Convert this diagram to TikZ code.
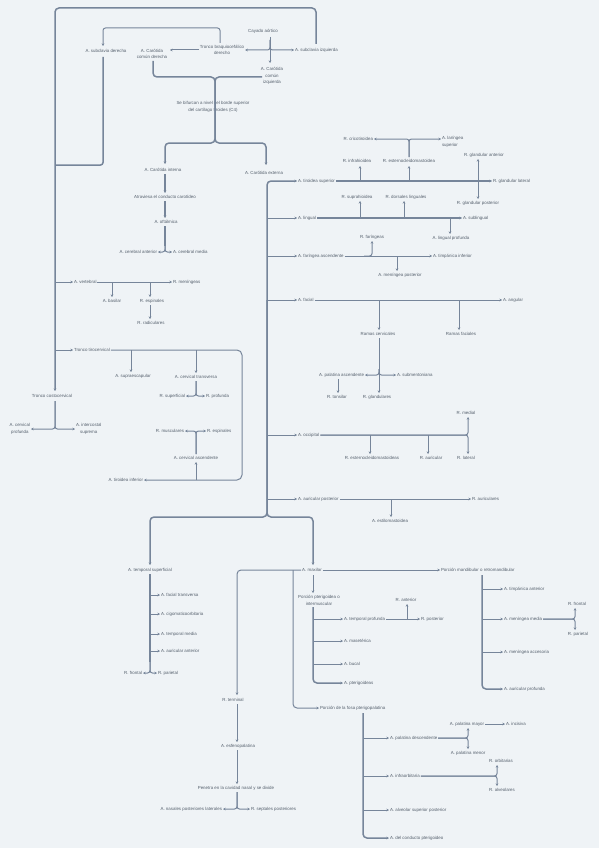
\documentclass[tikz,border=0pt]{standalone}
\usepackage{fontspec}
\setmainfont{Liberation Sans}
\usetikzlibrary{arrows.meta}
\definecolor{bgc}{HTML}{EFF3F6}
\definecolor{linec}{HTML}{76859A}
\definecolor{txtc}{HTML}{545F6C}
\begin{document}
\begin{tikzpicture}[x=1pt,y=-1pt,
  lbl/.style={font=\fontsize{4.4}{6.8}\selectfont, text=txtc, inner sep=0.8pt, align=center},
  cn/.style={draw=linec, line width=1pt, rounded corners=2.5pt},
  tk/.style={cn, line width=1.5pt},
  ar/.style={-{Stealth[length=2.6pt,width=2.6pt]}}]
\fill[bgc] (0,0) rectangle (599,848);
\useasboundingbox (0,0) rectangle (599,848);

% ---------- nodes: top ----------
\node[lbl] (cay) at (263,31) {Cayado aórtico};
\node[lbl] (tbd) at (222,50) {Tronco braquiocefálico\\derecho};
\node[lbl,anchor=west] (sci) at (294,50) {A. subclavia izquierda};
\node[lbl] (cci) at (272,76) {A. Carótida\\común\\izquierda};
\node[lbl] (scd) at (106,51) {A. subclavia derecha};
\node[lbl] (ccd) at (152,54) {A. Carótida\\común derecha};
\node[lbl] (bif) at (213,107) {Se bifurcan a nivel del borde superior\\del cartílago tiroides (C4)};
\node[lbl] (ici) at (163,170) {A. Carótida interna};
\node[lbl] (ext) at (264,173) {A. Carótida externa};
\node[lbl] (cct) at (165,197) {Atraviesa el conducto carotídeo};
\node[lbl] (oft) at (166,222) {A. oftálmica};
\node[lbl,anchor=east] (cea) at (158,252) {A. cerebral anterior};
\node[lbl,anchor=west] (cem) at (172,252) {A. cerebral media};

% ---------- nodes: subclavian ----------
\node[lbl,anchor=west] (vert) at (73,282) {A. vertebral};
\node[lbl,anchor=west] (men) at (172,282) {R. meníngeas};
\node[lbl] (bas) at (112,301) {A. basilar};
\node[lbl] (esp) at (152,301) {R. espinales};
\node[lbl] (rad) at (151,323) {R. radiculares};
\node[lbl,anchor=west] (ttc) at (73,350) {Tronco tirocervical};
\node[lbl] (supe) at (133,376) {A. supraescapular};
\node[lbl] (ctr) at (196,377) {A. cervical transversa};
\node[lbl,anchor=east] (rsup) at (186,396) {R. superficial};
\node[lbl,anchor=west] (rpro) at (205,396) {R. profunda};
\node[lbl,anchor=east] (rmus) at (185,431) {R. musculares};
\node[lbl,anchor=west] (resp) at (206,431) {R. espinales};
\node[lbl] (cas) at (196,458) {A. cervical ascendente};
\node[lbl,anchor=east] (tinf) at (144,480) {A. tiroidea inferior};
\node[lbl] (tcc) at (52,396) {Tronco costocervical};
\node[lbl,anchor=east] (cpr) at (31,429) {A. cervical\\profunda};
\node[lbl,anchor=west] (ics) at (75,429) {A. intercostal\\suprema};

% ---------- nodes: external carotid ----------
\node[lbl,anchor=west] (tsup) at (297,181) {A. tiroidea superior};
\node[lbl,anchor=west] (gla) at (492,181) {R. glandular lateral};
\node[lbl] (inf) at (357,161) {R. infrahioidea};
\node[lbl] (ecm) at (409,161) {R. esternocleidomastoidea};
\node[lbl,anchor=east] (cri) at (374,139) {R. cricotiroidea};
\node[lbl,anchor=west,align=left] (lar) at (441,142) {A. laríngea\\superior};
\node[lbl] (gan) at (484,155) {R. glandular anterior};
\node[lbl] (gpo) at (478,203) {R. glandular posterior};

\node[lbl,anchor=west] (ling) at (297,218) {A. lingual};
\node[lbl] (shi) at (357,197) {R. suprahioidea};
\node[lbl] (dor) at (406,197) {R. dorsales linguales};
\node[lbl,anchor=west] (subl) at (462,218) {A. sublingual};
\node[lbl] (prof) at (451,238) {A. lingual profunda};

\node[lbl,anchor=west] (fa) at (297,256) {A. faríngea ascendente};
\node[lbl] (rfar) at (372,237) {R. faríngeas};
\node[lbl] (mpo) at (400,275) {A. meníngea posterior};
\node[lbl,anchor=west] (tinf2) at (432,256) {A. timpánica inferior};

\node[lbl,anchor=west] (fac) at (297,300) {A. facial};
\node[lbl,anchor=west] (ang) at (502,300) {A. angular};
\node[lbl] (rce) at (378,334) {Ramas cervicales};
\node[lbl] (rfa) at (461,334) {Ramas faciales};
\node[lbl,anchor=east] (pas) at (365,375) {A. palatina ascendente};
\node[lbl,anchor=west] (smt) at (396,375) {A. submentoniana};
\node[lbl] (rgl) at (377,397) {R. glandulares};
\node[lbl] (rto) at (337,397) {R. tonsilar};

\node[lbl,anchor=west] (occ) at (297,435) {A. occipital};
\node[lbl] (ecms) at (372,458) {R. esternocleidomastoideas};
\node[lbl] (rau) at (431,458) {R. auricular};
\node[lbl] (rme) at (466,413) {R. medial};
\node[lbl] (rla) at (466,458) {R. lateral};

\node[lbl,anchor=west] (aup) at (297,499) {A. auricular posterior};
\node[lbl,anchor=west] (raus) at (471,499) {R. auriculares};
\node[lbl] (est) at (390,521) {A. estilomastoidea};

% ---------- temporal superficial ----------
\node[lbl] (ts) at (150,570) {A. temporal superficial};
\node[lbl,anchor=west] (ftr) at (160,595) {A. facial transversa};
\node[lbl,anchor=west] (cig) at (160,614) {A. cigomaticoorbitaria};
\node[lbl,anchor=west] (tme) at (160,634) {A. temporal media};
\node[lbl,anchor=west] (aan) at (160,651) {A. auricular anterior};
\node[lbl,anchor=east] (rfr) at (143,673) {R. frontal};
\node[lbl,anchor=west] (rpa) at (157,673) {R. parietal};

% ---------- maxilar ----------
\node[lbl] (max) at (312,570) {A. maxilar};
\node[lbl,anchor=west] (pt1) at (440,570) {Porción mandibular o retromandibular};
\node[lbl] (pt2) at (319,600) {Porción pterigoidea o\\intermuscular};
\node[lbl,anchor=west] (pt3) at (319,708) {Porción de la fosa pterigopalatina};

\node[lbl,anchor=west] (tan) at (503,589) {A. timpánica anterior};
\node[lbl,anchor=west] (mme) at (503,619) {A. meníngea media};
\node[lbl] (mfr) at (577,604) {R. frontal};
\node[lbl] (mpa) at (578,634) {R. parietal};
\node[lbl,anchor=west] (mac) at (503,652) {A. meníngea accesoria};
\node[lbl,anchor=west] (apr) at (503,689) {A. auricular profunda};

\node[lbl,anchor=west] (tpr) at (343,619) {A. temporal profunda};
\node[lbl] (tpa) at (406,600) {R. anterior};
\node[lbl,anchor=west] (tpp) at (420,619) {R. posterior};
\node[lbl,anchor=west] (mas) at (343,641) {A. masetérica};
\node[lbl,anchor=west] (buc) at (343,664) {A. bucal};
\node[lbl,anchor=west] (pte) at (343,683) {A. pterigoideas};

\node[lbl,anchor=west] (pde) at (389,738) {A. palatina descendente};
\node[lbl] (pma) at (467,724) {A. palatina mayor};
\node[lbl] (pme) at (468,753) {A. palatina menor};
\node[lbl,anchor=west] (inc) at (505,724) {A. incisiva};
\node[lbl,anchor=west] (ifo) at (389,776) {A. infraorbitaria};
\node[lbl] (orb) at (501,761) {R. orbitarias};
\node[lbl] (alv) at (502,790) {R. alveolares};
\node[lbl,anchor=west] (asp) at (389,810) {A. alveolar superior posterior};
\node[lbl,anchor=west] (cpt) at (389,838) {A. del conducto pterigoideo};

\node[lbl] (rter) at (233,700) {R. terminal};
\node[lbl] (esf) at (238,746) {A. esfenopalatina};
\node[lbl] (pen) at (236,788) {Penetra en la cavidad nasal y se divide};
\node[lbl,anchor=east] (npl) at (223,809) {A. nasales posteriores laterales};
\node[lbl,anchor=west] (sep) at (250,809) {R. septales posteriores};

% ---------- connectors: top ----------
\draw[cn,ar] (270,37) -- (270,63);
\draw[cn,ar] (270,40) |- (tbd.east);
\draw[cn,ar] (270,40) |- (sci.west);
\draw[cn,ar] (199,50) -- (170,50);
\draw[cn,ar] (220,43) |- (103,28) -- (103,46);
\draw[tk] (103,57) |- (55,165);
\draw[tk,ar,rounded corners=4pt] (316,44) |- (55,8) -- (55,391);
\draw[tk,ar,rounded corners=4pt] (153,61) |- (215,77) -- (215,143) -| (165,164);
\draw[tk,ar,rounded corners=4pt] (262,77) -| (215,143) -| (266,165);

% internal carotid
\draw[tk,ar] (165,174) -- (165,193);
\draw[tk,ar] (165,201) -- (165,218);
\draw[tk] (165,226) -- (165,246);
\draw[cn,ar] (165,240) |- (cea.east);
\draw[cn,ar] (165,240) |- (cem.west);

% subclavian branches
\draw[cn,ar] (55,282) -- (vert.west);
\draw[cn,ar] (vert.east) -- (men.west);
\draw[cn,ar] (112,282) -- (112,297);
\draw[cn,ar] (150,282) -- (150,297);
\draw[cn,ar] (150,305) -- (150,319);
\draw[cn,ar] (55,350) -- (ttc.west);
\draw[cn,ar,rounded corners=5pt] (ttc.east) -- (242,350) -- (242,480) -- (tinf.east);
\draw[cn,ar] (131,350) -- (131,372);
\draw[cn,ar] (196,350) -- (196,373);
\draw[cn,ar] (196,381) |- (rsup.east);
\draw[cn,ar] (196,381) |- (rpro.west);
\draw[cn,ar] (196,480) -- (196,462);
\draw[cn,ar] (196,454) |- (rmus.east);
\draw[cn,ar] (196,454) |- (resp.west);
\draw[cn,ar] (55,401) |- (cpr.east);
\draw[cn,ar] (55,401) |- (ics.west);

% external carotid trunk
\draw[tk,ar,rounded corners=4pt] (267,300) |- (tsup.west);
\draw[tk,ar,rounded corners=4pt] (267,300) |- (150,517) -- (150,565);
\draw[tk,ar,rounded corners=4pt] (267,300) |- (313,517) -- (313,565);
\draw[cn,ar] (267,218) -- (ling.west);
\draw[cn,ar] (267,256) -- (fa.west);
\draw[cn,ar] (267,300) -- (fac.west);
\draw[cn,ar] (267,435) -- (occ.west);
\draw[cn,ar] (267,499) -- (aup.west);

% tiroidea superior
\draw[tk,ar] (tsup.east) -- (gla.west);
\draw[cn,ar] (360,181) -- (360,166);
\draw[cn,ar] (409,181) -- (409,166);
\draw[cn,ar] (409,157) |- (cri.east);
\draw[cn,ar] (409,157) |- (441,139);
\draw[cn,ar] (478,181) -- (478,159);
\draw[cn,ar] (478,181) -- (478,199);

% lingual
\draw[tk,ar] (ling.east) -- (subl.west);
\draw[cn,ar] (360,218) -- (360,201);
\draw[cn,ar] (404,218) -- (404,201);
\draw[cn,ar] (450,218) -- (450,234);

% faringea
\draw[cn,ar] (fa.east) -- (tinf2.west);
\draw[cn,ar] (364,256) -| (372,241);
\draw[cn,ar] (397,256) -- (397,271);

% facial
\draw[cn,ar] (fac.east) -- (ang.west);
\draw[cn,ar] (379,300) -- (379,330);
\draw[cn,ar] (459,300) -- (459,330);
\draw[cn,ar] (379,338) -- (379,393);
\draw[cn,ar] (379,369) |- (pas.east);
\draw[cn,ar] (379,369) |- (smt.west);
\draw[cn,ar] (338,379) -- (338,393);

% occipital
\draw[cn,ar] (occ.east) -| (468,417);
\draw[cn,ar] (occ.east) -| (468,454);
\draw[cn,ar] (370,435) -- (370,454);
\draw[cn,ar] (428,435) -- (428,454);

% auricular posterior
\draw[cn,ar] (aup.east) -- (raus.west);
\draw[cn,ar] (391,499) -- (391,517);

% temporal superficial
\draw[tk] (150,574) -- (150,662);
\draw[cn,ar] (150,595) -- (ftr.west);
\draw[cn,ar] (150,614) -- (cig.west);
\draw[cn,ar] (150,634) -- (tme.west);
\draw[cn,ar] (150,651) -- (aan.west);
\draw[cn,ar] (150,660) |- (rfr.east);
\draw[cn,ar] (150,660) |- (rpa.west);

% maxilar
\draw[cn,ar,rounded corners=4pt] (max.west) -- (237,570) -- (237,695);
\draw[cn,ar,rounded corners=4pt] (293,570) -- (293,708) -- (pt3.west);
\draw[cn,ar] (313,575) -- (313,593);
\draw[cn,ar] (max.east) -- (pt1.west);

\draw[tk,ar,rounded corners=4pt] (313,607) |- (pte.west);
\draw[cn,ar] (313,619) -- (tpr.west);
\draw[cn,ar] (313,641) -- (mas.west);
\draw[cn,ar] (313,664) -- (buc.west);
\draw[cn,ar] (tpr.east) -- (tpp.west);
\draw[cn,ar] (407,619) -- (407,604);

\draw[tk,ar,rounded corners=4pt] (482,575) |- (apr.west);
\draw[cn,ar] (482,589) -- (tan.west);
\draw[cn,ar] (482,619) -- (mme.west);
\draw[cn,ar] (482,652) -- (mac.west);
\draw[cn,ar] (mme.east) -| (575,608);
\draw[cn,ar] (mme.east) -| (575,630);

\draw[tk,ar,rounded corners=4pt] (363,713) |- (cpt.west);
\draw[cn,ar] (363,738) -- (pde.west);
\draw[cn,ar] (363,776) -- (ifo.west);
\draw[cn,ar] (363,810) -- (asp.west);
\draw[cn,ar] (pde.east) -| (468,728);
\draw[cn,ar] (pde.east) -| (468,749);
\draw[cn,ar] (pma.east) -- (inc.west);
\draw[cn,ar] (ifo.east) -| (497,765);
\draw[cn,ar] (ifo.east) -| (497,786);

% esfenopalatina chain
\draw[cn,ar] (237,704) -- (237,742);
\draw[cn,ar] (237,750) -- (237,784);
\draw[cn,ar] (237,792) |- (npl.east);
\draw[cn,ar] (237,792) |- (sep.west);
\end{tikzpicture}
\end{document}
